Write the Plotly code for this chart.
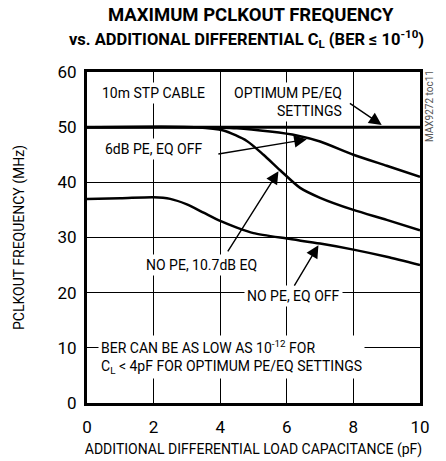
import plotly.graph_objects as go

# data
opt_x = [0, 10]
opt_y = [50, 50]
pe6_x = [0, 3.3, 4.5, 5.5, 6.3, 7, 8, 9, 10]
pe6_y = [50, 50, 49.8, 49.2, 48.5, 47.4, 45, 43, 41]
eq107_x = [0, 3.3, 4.1, 4.8, 5.3, 5.8, 6.4, 7, 8, 9, 10]
eq107_y = [50, 50, 49.4, 47.5, 45, 42.2, 39, 37.2, 35, 33.2, 31.3]
off_x = [0, 1, 2, 2.5, 3, 3.5, 4, 4.5, 5, 6, 7, 8, 9, 10]
off_y = [37, 37.1, 37.3, 37, 36, 34.5, 33, 31.8, 30.8, 29.8, 28.9, 27.8, 26.5, 25]

x_ticks = [0, 2, 4, 6, 8, 10]
y_ticks = [0, 10, 20, 30, 40, 50, 60]

FONT = "Roboto, Liberation Sans, sans-serif"

L, R, T, B = 87, 420, 72, 403  # plot area pixels

def px(xp):
    return (xp - L) / (R - L)

def py(yp):
    return (B - yp) / (B - T)

fig = go.Figure()
for xs, ys, w in [(pe6_x, pe6_y, 2.5), (eq107_x, eq107_y, 2.5), (off_x, off_y, 2.5), (opt_x, opt_y, 3)]:
    fig.add_trace(go.Scatter(x=xs, y=ys, mode="lines", line=dict(color="black", width=w, shape="spline", smoothing=0.7),
                             showlegend=False, hoverinfo="skip"))

def txt(x, y, s, xanchor="center", align="center", size=14):
    return dict(x=x, y=y, xref="x", yref="y", text=s, showarrow=False, xanchor=xanchor, align=align,
                bgcolor="white", borderpad=2, font=dict(family=FONT, size=size, color="black"))

def arr(tx, ty, hx, hy):
    return dict(x=hx, y=hy, ax=tx, ay=ty, xref="x", yref="y", axref="x", ayref="y", text="",
                showarrow=True, arrowhead=2, arrowsize=1.8, arrowwidth=1.4, arrowcolor="black")

annotations = [
    dict(x=px(251), y=py(15), xref="paper", yref="paper", text="<b>MAXIMUM PCLKOUT FREQUENCY</b>",
         showarrow=False, xanchor="center", yanchor="middle", font=dict(family=FONT, size=18.5, color="black")),
    dict(x=px(246), y=py(39), xref="paper", yref="paper",
         text="<b>vs. ADDITIONAL DIFFERENTIAL C<sub>L</sub> (BER ≤ 10<sup>-10</sup>)</b>",
         showarrow=False, xanchor="center", yanchor="middle", font=dict(family=FONT, size=16.5, color="black")),
    txt(2.0, 56.2, "10m STP CABLE"),
    txt(7.75, 54.6, "OPTIMUM PE/EQ<br>SETTINGS", xanchor="right", align="right"),
    txt(2.0, 46.0, "6dB PE, EQ OFF"),
    txt(3.45, 25.0, "NO PE, 10.7dB EQ"),
    txt(6.2, 19.4, "NO PE, EQ OFF"),
    txt(0.32, 8.4, "BER CAN BE AS LOW AS 10<sup>-12</sup> FOR<br>C<sub>L</sub> < 4pF FOR OPTIMUM PE/EQ SETTINGS",
        xanchor="left", align="left"),
    arr(7.85, 54.5, 8.85, 50.4),
    arr(3.9, 45.1, 6.6, 47.8),
    arr(4.2, 27.2, 5.75, 42.0),
    arr(6.2, 21.0, 6.95, 28.6),
    dict(x=px(429), y=py(106), xref="paper", yref="paper", text="MAX9272 toc11", showarrow=False, textangle=-90,
         xanchor="center", yanchor="middle", font=dict(family=FONT, size=10, color="#555")),
]

fig.update_layout(
    width=446, height=461,
    margin=dict(l=L, r=446 - R, t=T, b=461 - B, autoexpand=False),
    paper_bgcolor="white", plot_bgcolor="white",
    font=dict(family=FONT, size=15, color="black"),
    annotations=annotations,
    xaxis=dict(range=[0, 10], tickvals=x_ticks, ticktext=[str(v) for v in x_ticks],
               showgrid=True, gridcolor="black", gridwidth=1, zeroline=False,
               showline=True, linecolor="black", linewidth=3, mirror=True, ticks="",
               ticklabelstandoff=7,
               title=dict(text="ADDITIONAL DIFFERENTIAL LOAD CAPACITANCE (pF)", font=dict(size=14), standoff=8),
               tickfont=dict(size=17)),
    yaxis=dict(range=[0, 60], tickvals=y_ticks, ticktext=[str(v) for v in y_ticks],
               showgrid=True, gridcolor="black", gridwidth=1, zeroline=False,
               showline=True, linecolor="black", linewidth=3, mirror=True, ticks="",
               ticklabelstandoff=4,
               title=dict(text="PCLKOUT FREQUENCY (MHz)", font=dict(size=14), standoff=30),
               tickfont=dict(size=17)),
)
fig.write_html("out.html", post_script="document.body.style.margin='0';",
               config={"displayModeBar": False})
